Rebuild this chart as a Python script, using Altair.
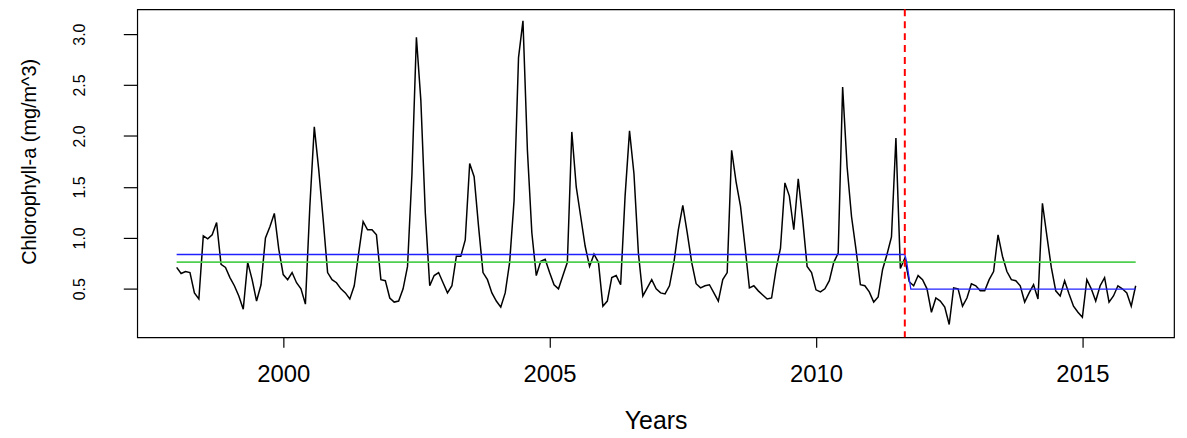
import altair as alt
import pandas as pd

# Monthly chlorophyll-a series, starting January 1998
start_year = 1998
chl = [
    0.71, 0.65, 0.67, 0.66, 0.46, 0.40, 1.02, 0.99, 1.03, 1.15, 0.74, 0.71,
    0.61, 0.53, 0.43, 0.30, 0.76, 0.59, 0.38, 0.54, 1.00, 1.11, 1.24, 0.89,
    0.64, 0.59, 0.66, 0.56, 0.50, 0.35, 1.31, 2.09, 1.67, 1.18, 0.66, 0.59,
    0.56, 0.50, 0.46, 0.40, 0.53, 0.85, 1.16, 1.08, 1.08, 1.03, 0.59, 0.58,
    0.41, 0.37, 0.38, 0.50, 0.72, 1.63, 2.97, 2.35, 1.25, 0.53, 0.63, 0.66,
    0.56, 0.46, 0.53, 0.82, 0.82, 0.98, 1.73, 1.60, 1.11, 0.66, 0.59, 0.46,
    0.38, 0.32, 0.46, 0.76, 1.37, 2.77, 3.13, 1.86, 1.05, 0.63, 0.77, 0.79,
    0.66, 0.54, 0.50, 0.63, 0.76, 2.04, 1.50, 1.21, 0.92, 0.72, 0.84, 0.76,
    0.33, 0.38, 0.61, 0.63, 0.54, 1.41, 2.05, 1.63, 0.85, 0.43, 0.51, 0.59,
    0.50, 0.46, 0.45, 0.53, 0.76, 1.08, 1.32, 1.05, 0.76, 0.55, 0.51, 0.53,
    0.54, 0.46, 0.38, 0.59, 0.66, 1.86, 1.55, 1.31, 0.92, 0.51, 0.53, 0.48,
    0.44, 0.40, 0.41, 0.69, 0.90, 1.54, 1.41, 1.08, 1.58, 1.18, 0.72, 0.66,
    0.49, 0.47, 0.50, 0.58, 0.76, 0.85, 2.48, 1.70, 1.21, 0.89, 0.54, 0.53,
    0.47, 0.37, 0.42, 0.69, 0.84, 1.01, 1.98, 0.70, 0.80, 0.57, 0.53, 0.63,
    0.59, 0.50, 0.27, 0.41, 0.38, 0.32, 0.15, 0.51, 0.50, 0.33, 0.41, 0.55,
    0.53, 0.48, 0.48, 0.59, 0.67, 1.03, 0.82, 0.67, 0.59, 0.58, 0.53, 0.37,
    0.46, 0.54, 0.40, 1.34, 1.02, 0.71, 0.48, 0.43, 0.58, 0.45, 0.33, 0.27,
    0.22, 0.59, 0.50, 0.38, 0.53, 0.61, 0.37, 0.43, 0.53, 0.50, 0.46, 0.33,
    0.53,
]

# Segmented mean (blue) and overall mean (green)
seg_years = [1998.0, 2011.667, 2011.70, 2011.78, 2016.0]
seg_values = [0.837, 0.837, 0.77, 0.496, 0.496]
mean_years = [1998.0, 2016.0]
mean_values = [0.762, 0.762]
break_year = [2011.667]

x_ticks = [2000, 2005, 2010, 2015]
y_ticks = [0.5, 1.0, 1.5, 2.0, 2.5, 3.0]

series = pd.DataFrame({"year": [start_year + i / 12 for i in range(len(chl))], "value": chl})
seg_df = pd.DataFrame({"year": seg_years, "value": seg_values})
mean_df = pd.DataFrame({"year": mean_years, "value": mean_values})
brk_df = pd.DataFrame({"year": break_year})

FONT = "Liberation Sans"
W, H = 1043, 330

x_enc = alt.X(
    "year:Q",
    scale=alt.Scale(domain=[1997.26, 2016.72], nice=False, zero=False),
    axis=alt.Axis(
        values=x_ticks, format="d", title="Years",
        tickSize=10, labelPadding=15, labelFontSize=24, labelFont=FONT,
        titleFontSize=25, titleFont=FONT, titleFontWeight="normal",
        titleX=W / 2, titleY=92, titleAlign="center", titleBaseline="alphabetic",
        labelFlush=False,
    ),
)
y_enc = alt.Y(
    "value:Q",
    scale=alt.Scale(domain=[0.024, 3.244], nice=False, zero=False),
    axis=alt.Axis(
        values=y_ticks, format=".1f", title="Chlorophyll-a (mg/m^3)",
        tickSize=14, labelPadding=36, labelFontSize=16, labelFont=FONT,
        labelAngle=270, labelAlign="center", labelBaseline="bottom",
        titleFontSize=20, titleFont=FONT, titleFontWeight="normal",
        titleAngle=270, titleX=-108, titleY=153, titleAlign="center",
        titleBaseline="middle", labelFlush=False,
    ),
)

line = alt.Chart(series).mark_line(color="black", strokeWidth=1.5).encode(x=x_enc, y=y_enc)
mean_line = alt.Chart(mean_df).mark_line(color="#4fcf4f", strokeWidth=1.6).encode(x=x_enc, y=y_enc)
seg_line = alt.Chart(seg_df).mark_line(color="#2020ff", strokeWidth=1.3).encode(x=x_enc, y=y_enc)
brk = alt.Chart(brk_df).mark_rule(color="#ff0000", strokeWidth=2, strokeDash=[7, 5]).encode(x=x_enc)

chart = alt.layer(line, mean_line, seg_line, brk).properties(
    width=W, height=H,
    autosize=alt.AutoSizeParams(type="none"),
    padding={"left": 130, "top": 0, "right": 5, "bottom": 99},
).configure_view(
    stroke="black", strokeWidth=1.2
).configure_axis(
    grid=False, domain=False, tickColor="black", labelColor="black",
    titleColor="black", tickWidth=1.2,
)

chart.save("out.html", embed_options={"renderer": "svg", "actions": False})
